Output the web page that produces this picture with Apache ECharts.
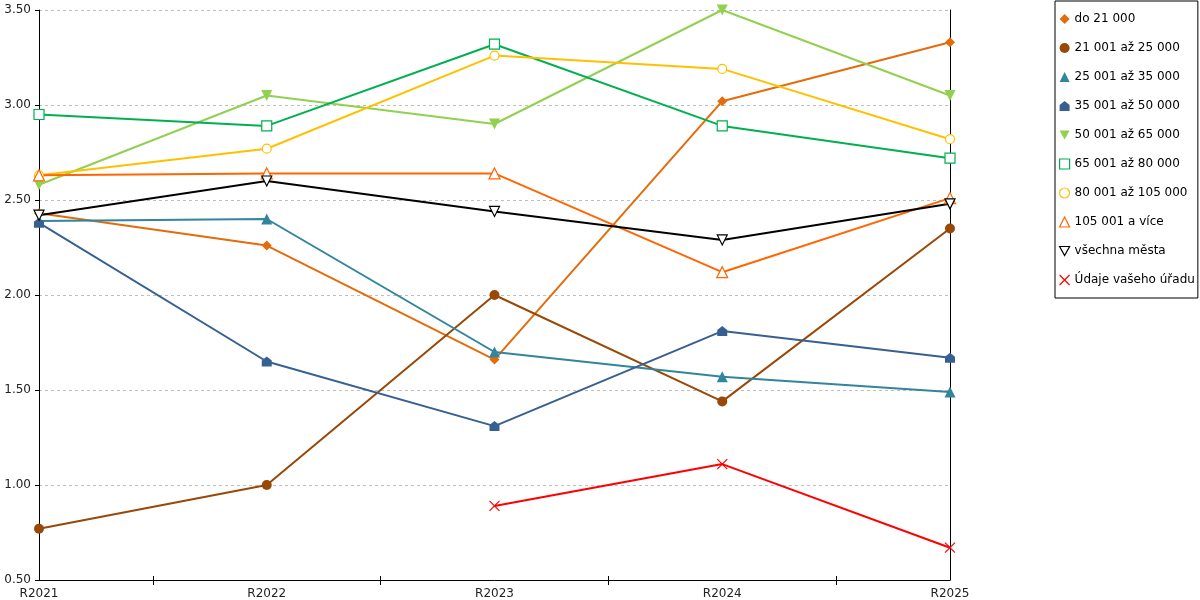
<!DOCTYPE html>
<html>
<head>
<meta charset="utf-8">
<script src="https://cdn.jsdelivr.net/npm/echarts@6/dist/echarts.min.js"></script>
<style>html,body{margin:0;padding:0;background:#fff}#c{width:1200px;height:600px}</style>
</head>
<body>
<div id="c"></div>
<script>
const categories = ['R2021', 'R2022', 'R2023', 'R2024', 'R2025'];
const yTicks = [0.5, 1.0, 1.5, 2.0, 2.5, 3.0, 3.5];
const do21 = [2.43, 2.26, 1.66, 3.02, 3.33];
const s21_25 = [0.77, 1.00, 2.00, 1.44, 2.35];
const s25_35 = [2.39, 2.40, 1.70, 1.57, 1.49];
const s35_50 = [2.38, 1.65, 1.31, 1.81, 1.67];
const s50_65 = [2.58, 3.05, 2.90, 3.50, 3.05];
const s65_80 = [2.95, 2.89, 3.32, 2.89, 2.72];
const s80_105 = [2.63, 2.77, 3.26, 3.19, 2.82];
const s105 = [2.63, 2.64, 2.64, 2.12, 2.51];
const vsechna = [2.42, 2.60, 2.44, 2.29, 2.48];
const udaje = [null, null, 0.89, 1.11, 0.67];

const FONT = 'DejaVu Sans';
const HOUSE = 'path://M0,4L5,0L10,4L10,10L0,10Z';
const DOWN = 'path://M0,0L10,0L5,9Z';
const CROSS = 'path://M0,0L10,10M10,0L0,10';

const defs = [
  {name: 'do 21 000', data: do21, color: '#E46C0A', symbol: 'diamond', size: 10},
  {name: '21 001 až 25 000', data: s21_25, color: '#984807', symbol: 'circle', size: 10},
  {name: '25 001 až 35 000', data: s25_35, color: '#31859C', symbol: 'triangle', size: 11},
  {name: '35 001 až 50 000', data: s35_50, color: '#376092', symbol: HOUSE, size: 10},
  {name: '50 001 až 65 000', data: s50_65, color: '#92D050', symbol: DOWN, size: 11},
  {name: '65 001 až 80 000', data: s65_80, color: '#00B050', symbol: 'rect', size: 10, empty: true},
  {name: '80 001 až 105 000', data: s80_105, color: '#FFC000', symbol: 'circle', size: 9, empty: true},
  {name: '105 001 a více', data: s105, color: '#FF6600', symbol: 'triangle', size: 11, empty: true},
  {name: 'všechna města', data: vsechna, color: '#000000', symbol: DOWN, size: 10, empty: true},
  {name: 'Údaje vašeho úřadu', data: udaje, color: '#FF0000', symbol: CROSS, size: 10, cross: true}
];

function itemStyleFor(d) {
  if (d.cross) return {color: 'rgba(0,0,0,0)', borderColor: d.color, borderWidth: 1.2};
  if (d.empty) return {color: '#ffffff', borderColor: d.color, borderWidth: 1.2};
  return {color: d.color, borderWidth: 0};
}

const series = defs.map(d => ({
  name: d.name,
  type: 'line',
  data: d.data,
  xAxisIndex: 0,
  yAxisIndex: 0,
  symbol: d.symbol,
  symbolSize: d.size,
  showAllSymbol: true,
  connectNulls: false,
  lineStyle: {color: d.color, width: 2},
  itemStyle: itemStyleFor(d),
  emphasis: {disabled: true},
  animation: false
}));

const legendData = defs.map(d => ({
  name: d.name,
  icon: d.symbol,
  itemStyle: itemStyleFor(d)
}));

const chart = echarts.init(document.getElementById('c'));
chart.setOption({
  animation: false,
  backgroundColor: '#ffffff',
  textStyle: {fontFamily: FONT},
  grid: {left: 39, right: 250, top: 10, bottom: 20, containLabel: false},
  legend: {
    orient: 'vertical',
    left: 1055,
    top: 1,
    padding: [12, 3, 12, 4],
    itemWidth: 10,
    itemHeight: 10,
    itemGap: 17,
    borderColor: '#000',
    borderWidth: 1,
    textStyle: {fontFamily: FONT, fontSize: 12, color: '#000'},
    data: legendData,
    selectedMode: false
  },
  xAxis: [
    {
      type: 'category',
      data: categories,
      boundaryGap: false,
      axisLine: {lineStyle: {color: '#000', width: 1}},
      axisTick: {show: false},
      axisLabel: {fontFamily: FONT, fontSize: 12, color: '#222', margin: 8, interval: 0},
      splitLine: {show: false}
    },
    {
      type: 'category',
      data: ['a', 'b', 'c', 'd'],
      boundaryGap: true,
      position: 'bottom',
      axisLine: {show: false},
      axisTick: {show: true, alignWithLabel: true, length: 5, inside: false, lineStyle: {color: '#000'}},
      axisLabel: {show: false},
      splitLine: {show: false}
    },
    {
      type: 'category',
      data: ['a', 'b', 'c', 'd'],
      boundaryGap: true,
      position: 'bottom',
      axisLine: {show: false},
      axisTick: {show: true, alignWithLabel: true, length: 4, inside: true, lineStyle: {color: '#000'}},
      axisLabel: {show: false},
      splitLine: {show: false}
    }
  ],
  yAxis: [
    {
      type: 'value',
      min: yTicks[0],
      max: yTicks[yTicks.length - 1],
      interval: 0.5,
      axisLine: {show: true, lineStyle: {color: '#000', width: 1}},
      axisTick: {show: true, length: 4, lineStyle: {color: '#000'}},
      axisLabel: {fontFamily: FONT, fontSize: 12, color: '#222', margin: 8, formatter: v => v.toFixed(2)},
      splitLine: {show: true, lineStyle: {color: '#bfbfbf', type: [3, 3], width: 1}}
    },
    {
      type: 'value',
      position: 'right',
      min: yTicks[0],
      max: yTicks[yTicks.length - 1],
      interval: 0.5,
      axisLine: {show: true, lineStyle: {color: '#000', width: 1}},
      axisTick: {show: false},
      axisLabel: {show: false},
      splitLine: {show: false}
    }
  ],
  series: series
});
</script>
</body>
</html>
